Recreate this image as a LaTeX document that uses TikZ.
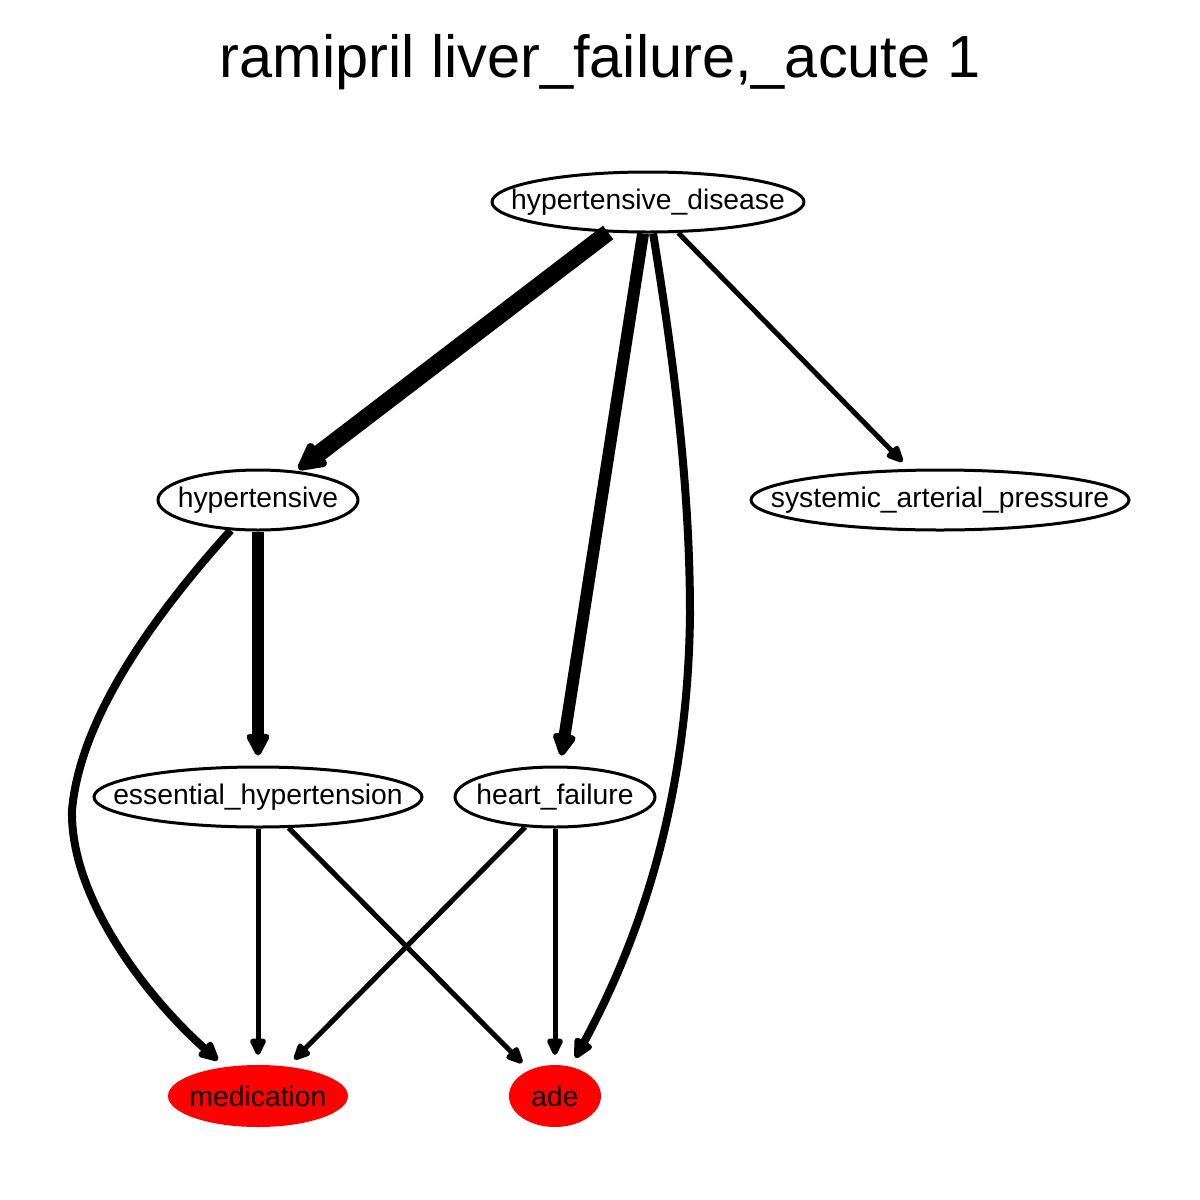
\documentclass[tikz,border=0pt]{standalone}
\usepackage{fontspec}
\setmainfont{Liberation Sans}
\usepackage{xcolor}
\usepackage{tikz}
\usetikzlibrary{shapes.geometric, arrows.meta, positioning}
\definecolor{adered}{RGB}{255,0,0}
\tikzset{
  term/.style={ellipse, draw=black, line width=3pt, inner sep=0pt,
    minimum height=60pt, font=\fontsize{28.3}{34}\selectfont},
  target/.style={ellipse, draw=none, fill=adered, inner sep=0pt,
    minimum height=62pt, font=\fontsize{28.3}{34}\selectfont},
  thinedge/.style={-{Triangle[length=20pt, width=17pt, round]}, line width=5pt, shorten >=10pt},
  midedge/.style={-{Triangle[length=23pt, width=21pt, round]}, line width=8pt, shorten >=10pt},
  boldedge/.style={-{Triangle[length=26pt, width=25pt, round]}, line width=12pt, shorten >=10pt},
  heavyedge/.style={-{Triangle[length=32pt, width=31pt, round]}, line width=17pt, shorten >=3pt}
}

\begin{document}
\begin{tikzpicture}[x=1pt, y=-1pt]
  % Canvas
  \useasboundingbox (0,0) rectangle (1200,1200);
  \fill[white] (0,0) rectangle (1200,1200);

  % Title
  \node[font=\fontsize{59.5}{70}\selectfont] (title) at (600,62) {ramipril liver\_failure,\_acute 1};

  % Nodes
  \node[term, minimum width=312pt] (hd) at (648,202) {\makebox[0pt]{hypertensive\_disease}};
  \node[term, minimum width=200pt] (hyp) at (258,500) {\makebox[0pt]{hypertensive}};
  \node[term, minimum width=378pt] (sap) at (940,500) {\makebox[0pt]{systemic\_arterial\_pressure}};
  \node[term, minimum width=328pt] (eh) at (258,797) {\makebox[0pt]{essential\_hypertension}};
  \node[term, minimum width=200pt] (hf) at (555,797) {\makebox[0pt]{heart\_failure}};
  \node[target, minimum width=180pt] (med) at (258,1096) {\makebox[0pt]{medication}};
  \node[target, minimum width=92pt] (ade) at (555,1096) {\makebox[0pt]{ade}};

  % Edges from hypertensive_disease
  \draw[heavyedge] (hd) -- (hyp);
  \draw[boldedge] (hd) -- (hf);
  \draw[thinedge] (hd) -- (sap);
  \draw[midedge] (hd) .. controls (672,350) and (690,480) .. (690,615)
    .. controls (688,780) and (650,920) .. (ade);

  % Edges from hypertensive
  \draw[boldedge] (hyp) -- (eh);
  \draw[midedge] (hyp) .. controls (150,620) and (80,720) .. (72,810)
    .. controls (70,900) and (150,1000) .. (med);

  % Edges into the outcome nodes
  \draw[thinedge] (eh) -- (med);
  \draw[thinedge] (eh) -- (ade);
  \draw[thinedge] (hf) -- (med);
  \draw[thinedge] (hf) -- (ade);
\end{tikzpicture}
\end{document}
